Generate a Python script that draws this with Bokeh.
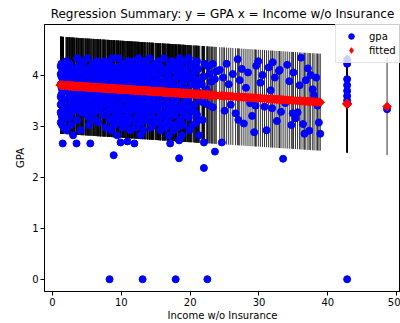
import numpy as np
from bokeh.plotting import figure
from bokeh.models import Range1d, FixedTicker, Legend, LegendItem
from bokeh.embed import file_html
from bokeh.resources import INLINE

title_text = "Regression Summary: y = GPA x = Income w/o Insurance"
x_label = "Income w/o Insurance"
y_label = "GPA"
x_ticks = [0, 10, 20, 30, 40, 50]
y_ticks = [0, 1, 2, 3, 4]

# dense block of students (income 1-24): incomes listed per GPA level
gpa_levels = [4.33, 4.27, 4.22, 4.17, 4.12, 4.07, 4.02, 3.97, 3.92, 3.87,
              3.82, 3.77, 3.72, 3.67, 3.62, 3.57, 3.52, 3.47, 3.42, 3.37,
              3.32, 3.27, 3.22, 3.17, 3.12, 3.07, 3.02, 2.97, 2.92, 2.82]
incomes_by_level = [
    [3.6, 5.1, 8.7, 9.6, 12.5, 14.1, 16.2, 18.5, 19.8],
    [2.0, 4.4, 6.5, 7.6, 10.9, 11.8, 13.4, 15.4, 17.4, 19.2, 21.0],
    [1.3, 2.5, 4.2, 6.0, 7.2, 8.1, 10.3, 11.4, 13.1, 15.0, 17.0, 18.0, 20.5, 22.1, 23.3],
    [1.2, 2.3, 3.8, 5.6, 7.0, 8.6, 9.7, 11.2, 12.6, 14.3, 15.7, 17.1, 18.6, 20.1, 22.6],
    [1.6, 3.0, 4.8, 6.6, 7.8, 9.0, 10.8, 12.0, 13.6, 14.7, 16.0, 17.5, 19.0, 21.2],
    [1.4, 2.9, 4.2, 6.0, 7.4, 8.8, 10.3, 11.6, 13.0, 14.5, 16.3, 17.9, 19.3, 20.7, 23.8],
    [1.2, 2.2, 3.7, 5.4, 7.0, 8.4, 9.8, 11.2, 12.7, 14.2, 15.5, 16.8, 18.2, 19.6, 22.8],
    [1.3, 2.5, 3.2, 4.9, 6.6, 8.1, 9.5, 11.0, 12.3, 13.8, 15.3, 16.7, 18.5, 20.0, 21.9],
    [1.5, 2.8, 4.5, 6.2, 7.5, 9.2, 10.5, 11.8, 13.3, 15.1, 16.4, 17.7, 19.3, 20.8, 23.6],
    [1.6, 2.4, 4.0, 5.7, 7.2, 8.9, 10.2, 11.4, 12.9, 14.6, 16.0, 17.4, 19.0, 21.2, 23.1],
    [1.2, 2.0, 3.3, 5.0, 6.8, 8.0, 9.5, 11.0, 12.4, 13.9, 15.8, 17.2, 18.7, 20.2, 21.7],
    [1.3, 3.0, 4.6, 6.3, 7.8, 9.1, 10.7, 12.1, 13.6, 15.2, 16.8, 18.3, 20.9],
    [1.4, 2.6, 4.0, 5.8, 7.3, 8.8, 10.2, 11.6, 13.0, 14.5, 16.1, 17.9, 19.5, 22.4],
    [1.5, 2.2, 3.5, 5.3, 6.9, 8.5, 9.6, 10.9, 12.6, 14.1, 15.6, 17.2, 18.8, 21.1],
    [1.3, 3.1, 4.6, 6.4, 8.2, 9.9, 12.2, 13.8, 15.3, 16.8, 18.4, 20.0, 23.0],
    [1.2, 2.7, 4.3, 5.9, 7.5, 9.0, 10.2, 11.4, 12.9, 14.4, 16.0, 17.5, 19.3, 22.0],
    [1.6, 2.4, 3.8, 5.2, 7.0, 8.6, 10.6, 11.9, 13.4, 14.9, 16.5, 18.0, 19.7, 21.4],
    [1.4, 3.2, 4.8, 6.6, 8.1, 9.8, 11.5, 13.1, 14.5, 16.1, 17.7, 19.4, 21.8],
    [1.2, 2.9, 4.4, 6.0, 7.6, 9.3, 11.1, 12.6, 14.1, 15.6, 17.3, 18.9, 20.6, 22.6],
    [1.6, 2.5, 3.9, 5.1, 6.6, 8.3, 10.0, 11.6, 13.0, 14.7, 16.6, 18.0, 19.6, 23.3],
    [1.5, 3.4, 5.6, 6.9, 8.9, 10.4, 12.0, 13.5, 15.2, 17.0, 18.3, 20.1],
    [1.2, 2.8, 4.2, 6.1, 8.0, 9.3, 11.2, 12.5, 14.0, 15.7, 17.5, 19.0, 20.7],
    [1.3, 2.2, 4.9, 7.4, 9.6, 10.9, 12.9, 14.4, 16.3, 17.8, 19.2, 21.0],
    [1.4, 2.5, 5.3, 9.0, 10.5, 12.3, 13.3, 15.6, 17.0, 19.8],
    [1.6, 3.6, 6.3, 8.3, 10.0, 11.5, 13.8, 15.0, 16.7, 18.6, 21.8],
    [1.2, 6.7, 9.4, 11.0, 13.0, 15.4, 16.9, 18.3, 20.9],
    [1.4, 2.7, 5.3, 9.0, 10.7, 12.3, 14.6, 16.0, 17.4, 19.0, 20.4],
    [1.6, 7.7, 10.2, 12.1, 14.3, 16.4, 18.1],
    [2.0, 4.1, 8.5, 11.3, 13.2, 15.7, 17.6, 19.9],
    [3.0, 9.4, 12.8, 16.9, 18.8, 21.3],
]

# low outliers
income_low = [1.5, 3.5, 5.5, 9.9, 10.9, 11.9, 17.1, 18.4, 22.0, 24.6,
              8.9, 18.4, 22.0, 23.6, 33.5, 8.3, 13.1, 17.9, 22.5]
gpa_low = [2.66, 2.66, 2.66, 2.68, 2.70, 2.66, 2.66, 2.72, 2.68, 2.68,
           2.43, 2.37, 2.18, 2.50, 2.36, 0.0, 0.0, 0.0, 0.0]

# sparser part (income 24-39)
income_right = [24.3, 24.8, 25.3, 25.6, 25.9, 26.2, 26.6, 26.9, 27.2, 27.5,
                27.8, 28.1, 28.4, 28.7, 29.0, 29.3, 29.6, 29.9, 30.2, 30.5,
                30.8, 31.1, 31.4, 31.7, 32.0, 32.3, 32.6, 32.9, 33.2, 33.8,
                34.1, 34.4, 34.7, 35.0, 35.3, 35.6, 35.9, 36.1, 36.4, 36.8,
                37.1, 37.3, 37.5, 37.8, 38.0, 38.3, 38.7, 38.9,
                25.0, 27.0, 29.5, 31.9, 33.0, 34.9, 36.6, 38.5]
gpa_right = [4.10, 3.95, 4.22, 3.82, 3.42, 4.02, 3.25, 4.31, 3.90, 4.12,
             3.05, 3.75, 4.05, 3.45, 3.20, 2.88, 4.18, 4.27, 3.85, 4.00,
             3.38, 2.92, 4.15, 3.70, 4.25, 3.95, 3.10, 4.08, 3.28, 3.45,
             4.20, 3.88, 3.02, 4.05, 3.15, 3.27, 3.80, 4.34, 3.04, 3.90,
             4.13, 2.91, 4.00, 3.72, 3.60, 3.95, 3.07, 2.85,
             3.30, 3.12, 3.40, 3.35, 4.10, 3.25, 2.85, 3.40]

# group at income 42.8 and single student at 48.6
income_grp = [42.8, 42.8, 42.8, 42.8, 42.8, 42.8, 42.8, 42.8]
gpa_grp = [4.30, 4.22, 3.92, 3.80, 3.69, 3.59, 3.50, 0.0]
income_far = [48.6]
gpa_far = [3.33]

# fitted model
fit_intercept = 3.81
fit_slope = -0.0088
pi_halfwidth = 0.95

income = []
gpa = []
for lvl, xs in zip(gpa_levels, incomes_by_level):
    income += xs
    gpa += [lvl] * len(xs)
income += income_low + income_right + income_grp + income_far
gpa += gpa_low + gpa_right + gpa_grp + gpa_far

x = np.array(income)
y = np.array(gpa)
order = np.argsort(x, kind="stable")
x = x[order]
y = y[order]
fitted = fit_intercept + fit_slope * x
lower = fitted - pi_halfwidth
upper = fitted + pi_halfwidth

FONT = "DejaVu Sans"

p = figure(width=400, height=323,
           x_range=Range1d(-1.15, 50.55), y_range=Range1d(-0.24, 4.99),
           output_backend="svg", toolbar_location=None,
           min_border_left=44, min_border_right=0,
           min_border_top=24, min_border_bottom=31,
           title=title_text)

p.title.text_font = FONT
p.title.text_font_size = "12px"
p.title.text_font_style = "normal"
p.title.text_color = "black"
p.title.align = "center"
p.title.standoff = 7

p.segment(x0=x, y0=lower, x1=x, y1=upper, line_color="black",
          line_alpha=0.8, line_width=1)
r_gpa = p.scatter(x, y, marker="circle", size=7, fill_color="#0000ff",
                  line_color="#0000ff", line_width=1)
p.scatter(x, fitted, marker="square", angle=np.pi / 4, size=6,
          fill_color="#ff0000", line_color="#ff0000", line_width=1)
# hidden renderer used only as the legend swatch of the fitted diamonds
r_fit_key = p.scatter(x=x[-1:], y=fitted[-1:], marker="diamond", size=13,
                      fill_color="#ff0000", line_color="#ff0000", line_width=1)
r_fit_key.visible = False

legend = Legend(items=[LegendItem(label="gpa", renderers=[r_gpa]),
                       LegendItem(label="fitted", renderers=[r_fit_key])],
                location=(291, 228), margin=0, padding=5, spacing=0,
                glyph_width=20, glyph_height=14, label_height=14,
                label_standoff=8,
                label_text_font=FONT, label_text_font_size="10px",
                label_text_color="black",
                inactive_fill_alpha=0,
                border_line_color="#cccccc", border_line_width=1,
                background_fill_color="white", background_fill_alpha=0.8)
p.add_layout(legend)

for ax in (p.xaxis[0], p.yaxis[0]):
    ax.axis_line_color = "black"
    ax.major_tick_line_color = "black"
    ax.minor_tick_line_color = None
    ax.major_tick_out = 4
    ax.major_tick_in = 0
    ax.major_label_text_font = FONT
    ax.major_label_text_font_size = "10px"
    ax.major_label_text_color = "black"
    ax.axis_label_text_font = FONT
    ax.axis_label_text_font_size = "10px"
    ax.axis_label_text_font_style = "normal"
    ax.axis_label_text_color = "black"
    ax.major_label_standoff = 2
    ax.axis_label_standoff = 3

p.xaxis[0].ticker = FixedTicker(ticks=x_ticks)
p.yaxis[0].ticker = FixedTicker(ticks=y_ticks)
p.xaxis[0].axis_label = x_label
p.yaxis[0].axis_label = y_label
p.xaxis[0].axis_label_standoff = 1

p.xgrid.visible = False
p.ygrid.visible = False
p.outline_line_color = "black"
p.outline_line_width = 1
p.background_fill_color = "white"
p.border_fill_color = "white"

open("out.html", "w").write(file_html(p, INLINE))
